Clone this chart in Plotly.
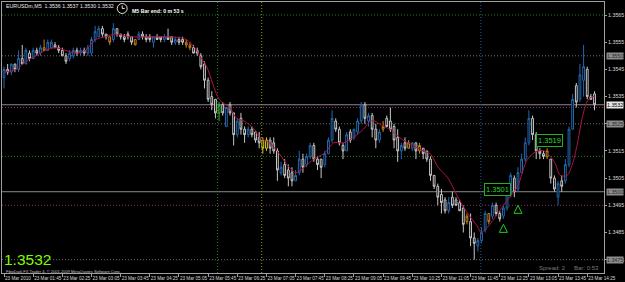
import plotly.graph_objects as go

# ---------------- data ----------------
title_text = "EURUSDm,M5  1.3536 1.3537 1.3530 1.3532"
bar_end_text = "M5 Bar end: 0 m 53 s"
last_price_text = "1.3532"
copyright_text = "FiboDark FX Trader 4, \u00a9 2001-2009 MetaQuotes Software Corp."
spread_text = "Spread: 2"
bar_timer_text = "Bar: 0:53"

time_label_bars = [0, 8, 16, 24, 32, 40, 48, 56, 64, 72, 80, 88, 96, 104, 112, 120, 128, 136, 144, 152, 160]
time_labels = ["23 Mar 2010", "23 Mar 01:45", "23 Mar 02:25", "23 Mar 03:05", "23 Mar 03:45",
               "23 Mar 04:25", "23 Mar 05:05", "23 Mar 05:45", "23 Mar 06:25", "23 Mar 07:05",
               "23 Mar 07:45", "23 Mar 08:25", "23 Mar 09:05", "23 Mar 09:45", "23 Mar 10:25",
               "23 Mar 11:05", "23 Mar 11:45", "23 Mar 12:25", "23 Mar 13:05", "23 Mar 13:45",
               "23 Mar 14:25"]

price_ticks = [1.3475, 1.3485, 1.3495, 1.3505, 1.3515, 1.3525, 1.3535, 1.3545, 1.3555, 1.3565]

opens = [1.3542, 1.3545, 1.3544, 1.3547, 1.3545, 1.3549, 1.3547, 1.3551, 1.3549, 1.3552,
         1.3551, 1.3553, 1.3552, 1.3553, 1.3554, 1.3553, 1.3552, 1.3550, 1.3549, 1.3550,
         1.3552, 1.3551, 1.3552, 1.3551, 1.3551, 1.3556, 1.3557, 1.3560, 1.3558, 1.3557,
         1.3556, 1.3560, 1.3558, 1.3557, 1.3558, 1.3557, 1.3556, 1.3556, 1.3558, 1.3557,
         1.3557, 1.3555, 1.3557, 1.3557, 1.3556, 1.3557, 1.3557, 1.3555, 1.3556, 1.3556,
         1.3555, 1.3554, 1.3553, 1.3552, 1.3550, 1.3547, 1.3541, 1.3535, 1.3534, 1.3529,
         1.3532, 1.3524, 1.3532, 1.3529, 1.3521, 1.3527, 1.3523, 1.3521, 1.3523, 1.3522,
         1.3520, 1.3519, 1.3516, 1.3519, 1.3518, 1.3515, 1.3507, 1.3510, 1.3508, 1.3507,
         1.3504, 1.3507, 1.3512, 1.3510, 1.3513, 1.3517, 1.3512, 1.3512, 1.3510, 1.3514,
         1.3519, 1.3526, 1.3523, 1.3517, 1.3515, 1.3522, 1.3520, 1.3522, 1.3526, 1.3532,
         1.3526, 1.3528, 1.3523, 1.3519, 1.3523, 1.3527, 1.3526, 1.3524, 1.3520, 1.3515,
         1.3518, 1.3516, 1.3516, 1.3518, 1.3515, 1.3516, 1.3515, 1.3512, 1.3506, 1.3502,
         1.3499, 1.3497, 1.3493, 1.3498, 1.3497, 1.3496, 1.3494, 1.3489, 1.3489, 1.3483,
         1.3480, 1.3482, 1.3486, 1.3492, 1.3491, 1.3495, 1.3492, 1.3491, 1.3494, 1.3499,
         1.3505, 1.3501, 1.3507, 1.3512, 1.3518, 1.3527, 1.3521, 1.3515, 1.3514, 1.3513,
         1.3512, 1.3505, 1.3498, 1.3504, 1.3504, 1.3510, 1.3523, 1.3539, 1.3534, 1.3541,
         1.3545, 1.3535, 1.3536]
highs = [1.3546, 1.3547, 1.3547, 1.3547, 1.3552, 1.3554, 1.3553, 1.3552, 1.3553, 1.3553,
         1.3554, 1.3556, 1.3556, 1.3556, 1.3555, 1.3554, 1.3553, 1.3551, 1.3552, 1.3553,
         1.3553, 1.3553, 1.3553, 1.3554, 1.3557, 1.3561, 1.3561, 1.3561, 1.3558, 1.3557,
         1.3562, 1.3560, 1.3558, 1.3558, 1.3559, 1.3557, 1.3556, 1.3559, 1.3559, 1.3558,
         1.3558, 1.3557, 1.3558, 1.3557, 1.3558, 1.3560, 1.3557, 1.3557, 1.3557, 1.3557,
         1.3556, 1.3555, 1.3554, 1.3553, 1.3551, 1.3548, 1.3542, 1.3537, 1.3534, 1.3533,
         1.3533, 1.3531, 1.3533, 1.3529, 1.3527, 1.3529, 1.3524, 1.3524, 1.3524, 1.3522,
         1.3522, 1.3520, 1.3520, 1.3520, 1.3520, 1.3516, 1.3511, 1.3512, 1.3510, 1.3509,
         1.3508, 1.3515, 1.3514, 1.3514, 1.3518, 1.3518, 1.3513, 1.3512, 1.3515, 1.3520,
         1.3530, 1.3527, 1.3524, 1.3518, 1.3522, 1.3523, 1.3523, 1.3527, 1.3533, 1.3533,
         1.3529, 1.3529, 1.3525, 1.3523, 1.3526, 1.3528, 1.3531, 1.3525, 1.3523, 1.3518,
         1.3520, 1.3519, 1.3518, 1.3518, 1.3518, 1.3516, 1.3515, 1.3513, 1.3506, 1.3503,
         1.3501, 1.3498, 1.3498, 1.3500, 1.3498, 1.3497, 1.3495, 1.3492, 1.3492, 1.3485,
         1.3483, 1.3487, 1.3493, 1.3492, 1.3496, 1.3496, 1.3493, 1.3495, 1.3499, 1.3507,
         1.3506, 1.3509, 1.3514, 1.3520, 1.3530, 1.3528, 1.3522, 1.3516, 1.3515, 1.3516,
         1.3512, 1.3506, 1.3504, 1.3506, 1.3512, 1.3524, 1.3536, 1.3540, 1.3547, 1.3554,
         1.3546, 1.3536, 1.3537]
lows = [1.3538, 1.3543, 1.3543, 1.3544, 1.3544, 1.3547, 1.3547, 1.3548, 1.3549, 1.3550,
        1.3550, 1.3552, 1.3552, 1.3553, 1.3553, 1.3551, 1.3550, 1.3547, 1.3548, 1.3549,
        1.3550, 1.3550, 1.3550, 1.3550, 1.3550, 1.3555, 1.3557, 1.3557, 1.3556, 1.3554,
        1.3555, 1.3557, 1.3556, 1.3555, 1.3556, 1.3554, 1.3554, 1.3556, 1.3556, 1.3555,
        1.3555, 1.3553, 1.3556, 1.3555, 1.3555, 1.3556, 1.3554, 1.3554, 1.3554, 1.3554,
        1.3553, 1.3552, 1.3551, 1.3550, 1.3545, 1.3538, 1.3533, 1.3530, 1.3527, 1.3526,
        1.3528, 1.3524, 1.3528, 1.3517, 1.3520, 1.3521, 1.3518, 1.3520, 1.3520, 1.3518,
        1.3516, 1.3514, 1.3515, 1.3514, 1.3514, 1.3504, 1.3506, 1.3505, 1.3502, 1.3502,
        1.3504, 1.3506, 1.3507, 1.3509, 1.3512, 1.3511, 1.3508, 1.3505, 1.3509, 1.3514,
        1.3518, 1.3522, 1.3517, 1.3512, 1.3515, 1.3518, 1.3519, 1.3521, 1.3525, 1.3525,
        1.3524, 1.3520, 1.3516, 1.3518, 1.3522, 1.3524, 1.3522, 1.3516, 1.3511, 1.3512,
        1.3515, 1.3516, 1.3515, 1.3512, 1.3514, 1.3512, 1.3511, 1.3504, 1.3501, 1.3495,
        1.3492, 1.3492, 1.3492, 1.3494, 1.3495, 1.3493, 1.3485, 1.3488, 1.3480, 1.3475,
        1.3478, 1.3481, 1.3485, 1.3488, 1.3490, 1.3491, 1.3489, 1.3490, 1.3493, 1.3498,
        1.3498, 1.3500, 1.3507, 1.3511, 1.3517, 1.3519, 1.3512, 1.3512, 1.3512, 1.3512,
        1.3503, 1.3500, 1.3495, 1.3500, 1.3503, 1.3509, 1.3523, 1.3531, 1.3533, 1.3535,
        1.3534, 1.3534, 1.3530]
closes = [1.3545, 1.3544, 1.3547, 1.3545, 1.3549, 1.3547, 1.3552, 1.3549, 1.3552, 1.3551,
          1.3553, 1.3552, 1.3555, 1.3555, 1.3553, 1.3552, 1.3550, 1.3548, 1.3551, 1.3552,
          1.3551, 1.3552, 1.3551, 1.3553, 1.3556, 1.3559, 1.3560, 1.3558, 1.3557, 1.3555,
          1.3560, 1.3558, 1.3557, 1.3556, 1.3557, 1.3555, 1.3554, 1.3558, 1.3557, 1.3556,
          1.3556, 1.3557, 1.3556, 1.3556, 1.3557, 1.3556, 1.3555, 1.3556, 1.3555, 1.3555,
          1.3554, 1.3553, 1.3551, 1.3551, 1.3546, 1.3541, 1.3534, 1.3532, 1.3529, 1.3532,
          1.3529, 1.3531, 1.3529, 1.3521, 1.3526, 1.3523, 1.3521, 1.3523, 1.3521, 1.3519,
          1.3518, 1.3516, 1.3519, 1.3516, 1.3515, 1.3508, 1.3509, 1.3506, 1.3505, 1.3504,
          1.3506, 1.3512, 1.3509, 1.3513, 1.3517, 1.3512, 1.3510, 1.3509, 1.3514, 1.3519,
          1.3527, 1.3523, 1.3518, 1.3515, 1.3521, 1.3519, 1.3523, 1.3526, 1.3532, 1.3527,
          1.3528, 1.3523, 1.3519, 1.3522, 1.3524, 1.3524, 1.3523, 1.3519, 1.3515, 1.3517,
          1.3516, 1.3518, 1.3518, 1.3515, 1.3517, 1.3514, 1.3512, 1.3506, 1.3502, 1.3498,
          1.3496, 1.3493, 1.3496, 1.3495, 1.3495, 1.3493, 1.3488, 1.3491, 1.3483, 1.3481,
          1.3482, 1.3485, 1.3492, 1.3489, 1.3495, 1.3492, 1.3490, 1.3494, 1.3499, 1.3506,
          1.3500, 1.3507, 1.3512, 1.3518, 1.3527, 1.3521, 1.3515, 1.3514, 1.3513, 1.3515,
          1.3505, 1.3501, 1.3503, 1.3502, 1.3510, 1.3523, 1.3534, 1.3533, 1.3543, 1.3546,
          1.3535, 1.3534, 1.3532]

orange_bars = [11, 29, 36, 50, 51, 104, 111, 114, 127, 133, 149]
yellow_bars = [71, 72]
green_bars = [59]

# smoothed moving average (bar position, price)
ma_pos = [0, 3.3, 6, 8.7, 11.4, 14.2, 16.9, 19.6, 22.3, 25.1, 27.8, 30.5, 34.6, 40, 45.5,
          50, 52.3, 53.7, 55.6, 57.2, 58.6, 59.7, 61.9, 63.8, 65.9, 68.7, 70, 72.8, 75.5,
          78.2, 80.1, 82.3, 85, 87.7, 90.5, 93.2, 95.9, 98.6, 100.5, 101.6, 104.1, 106,
          107.6, 109.5, 112.3, 115, 116.9, 119.1, 121.8, 124.5, 127.2, 130, 130.8, 132.7,
          135.4, 138.1, 140.9, 143.6, 146.3, 148.2, 151, 152.6, 154.5, 155.9, 157.2, 158.6,
          159.9, 161.3, 162.1]
ma_val = [1.3544, 1.3545, 1.3548, 1.3550, 1.3552, 1.3553, 1.3552, 1.3551, 1.3552, 1.3556,
          1.3557, 1.3558, 1.3557, 1.3557, 1.3557, 1.3556, 1.3553, 1.3550, 1.3546, 1.3540,
          1.3535, 1.3533, 1.3531, 1.3527, 1.3526, 1.3523, 1.3520, 1.3518, 1.3514, 1.3509,
          1.3507, 1.3509, 1.3512, 1.3514, 1.3518, 1.3518, 1.3520, 1.3523, 1.3526, 1.3526,
          1.3524, 1.3523, 1.3521, 1.3519, 1.3517, 1.3515, 1.3514, 1.3509, 1.3505, 1.3498,
          1.3492, 1.3487, 1.3485, 1.3487, 1.3492, 1.3497, 1.3502, 1.3512, 1.3515, 1.3515,
          1.3511, 1.3506, 1.3506, 1.3510, 1.3517, 1.3527, 1.3533, 1.3535, 1.3535]

# horizontal objects (price, colour, dash)
h_levels = [1.3565, 1.3550, 1.3532, 1.3531, 1.3525, 1.3513, 1.3500, 1.3495, 1.3475]
h_colors = ["#1f7a1f", "#6e6e6e", "#8a8a8a", "#8a2a8a", "#6e6e6e", "#1f7a1f", "#8a8a8a", "#8a2a6a", "#6e6e6e"]
h_dashes = ["1px,2px", "1px,2px", "solid", "1px,2px", "1px,2px", "1px,2px", "solid", "1px,2px", "1px,2px"]

# vertical objects (bar position, colour)
v_pos = [58.6, 70.7, 130.8]
v_colors = ["#1f8a1f", "#9a9a1a", "#1e5a8a"]

# price labels drawn on the right scale
axis_label_prices = [1.3550, 1.3525, 1.3500, 1.3475]
axis_label_texts = ["1.3550", "1.3525", "1.3500", "1.3475"]

# signal arrows and price boxes
arrow_pos = [137, 141]
arrow_price = [1.3488, 1.3495]
box_pos = [135.4, 149.6]
box_price = [1.3501, 1.3519]
box_texts = ["1.3501", "1.3519"]

# ---------------- figure ----------------
W, H = 625, 282
ML, MR, MT, MB = 1, 18, 1, 9
PW, PH = W - ML - MR, H - MT - MB


def px(xp):
    return (xp - ML) / PW


def py(yp):
    return (H - MB - yp) / PH


bars = list(range(len(opens)))
special = set(orange_bars) | set(yellow_bars) | set(green_bars)

fig = go.Figure()

# moving average
fig.add_trace(go.Scatter(x=ma_pos, y=ma_val, mode="lines",
                         line=dict(color="#b01446", width=1, shape="spline", smoothing=0.8),
                         hoverinfo="skip"))


def add_candles(idx, inc_col, dec_col, inc_fill="#000000", dec_fill="#000000"):
    fig.add_trace(go.Candlestick(
        x=[bars[i] for i in idx],
        open=[opens[i] for i in idx], high=[highs[i] for i in idx],
        low=[lows[i] for i in idx], close=[closes[i] for i in idx],
        increasing=dict(line=dict(color=inc_col, width=1), fillcolor=inc_fill),
        decreasing=dict(line=dict(color=dec_col, width=1), fillcolor=dec_fill),
        whiskerwidth=0, showlegend=False))


add_candles([i for i in bars if i not in special], "#2468b0", "#c8c8c8")
add_candles(orange_bars, "#c8801e", "#c8801e")
add_candles(yellow_bars, "#d8c820", "#d8c820")
add_candles(green_bars, "#30c030", "#30c030")

# arrows
fig.add_trace(go.Scatter(x=arrow_pos, y=arrow_price, mode="markers",
                         marker=dict(symbol="arrow-up-open", size=8, color="#20d020",
                                     line=dict(color="#20d020", width=1)),
                         hoverinfo="skip"))

shapes = []
for lvl, col, dsh in zip(h_levels, h_colors, h_dashes):
    shapes.append(dict(type="line", xref="paper", yref="y", x0=0, x1=1, y0=lvl, y1=lvl,
                       line=dict(color=col, width=1, dash=dsh), layer="below"))
for vp, col in zip(v_pos, v_colors):
    shapes.append(dict(type="line", xref="x", yref="paper", x0=vp, x1=vp, y0=0, y1=1,
                       line=dict(color=col, width=1, dash="1px,2px"), layer="below"))

# clock icon
shapes.append(dict(type="circle", xref="paper", yref="paper",
                   x0=px(117), x1=px(127), y0=py(12.5), y1=py(2.5),
                   line=dict(color="#e0e0e0", width=1)))
shapes.append(dict(type="line", xref="paper", yref="paper",
                   x0=px(122), x1=px(122), y0=py(7.5), y1=py(4.5),
                   line=dict(color="#e0e0e0", width=1)))
shapes.append(dict(type="line", xref="paper", yref="paper",
                   x0=px(122), x1=px(124.5), y0=py(7.5), y1=py(7.5),
                   line=dict(color="#e0e0e0", width=1)))

annotations = []
small = "Liberation Sans Narrow, Liberation Sans, Arial"
annotations.append(dict(text=title_text, xref="paper", yref="paper", x=px(3), y=py(5),
                        xanchor="left", yanchor="middle", showarrow=False,
                        font=dict(family=small, size=5.3, color="#e8e8e8")))
annotations.append(dict(text="<b>" + bar_end_text + "</b>", xref="paper", yref="paper",
                        x=px(130), y=py(10), xanchor="left", yanchor="middle", showarrow=False,
                        font=dict(family="Liberation Sans, Arial", size=5.2, color="#ffffff")))
annotations.append(dict(text=last_price_text, xref="paper", yref="paper", x=px(1), y=py(259.5),
                        xanchor="left", yanchor="middle", showarrow=False,
                        font=dict(family="Liberation Sans, Arial", size=15.5, color="#7cfc00")))
annotations.append(dict(text=copyright_text, xref="paper", yref="paper", x=px(3), y=py(271.3),
                        xanchor="left", yanchor="middle", showarrow=False,
                        font=dict(family=small, size=4.0, color="#c0c0c0")))
annotations.append(dict(text=spread_text, xref="paper", yref="paper", x=px(540), y=py(268),
                        xanchor="left", yanchor="middle", showarrow=False,
                        font=dict(family="Liberation Sans, Arial", size=6, color="#7a7a7a")))
annotations.append(dict(text=bar_timer_text, xref="paper", yref="paper", x=px(575), y=py(268),
                        xanchor="left", yanchor="middle", showarrow=False,
                        font=dict(family="Liberation Sans, Arial", size=6, color="#7a7a7a")))

for p, t in zip(axis_label_prices, axis_label_texts):
    annotations.append(dict(text=t, xref="paper", yref="y", x=1.0, y=p, xanchor="left",
                            yanchor="middle", showarrow=False, bgcolor="#8c8c8c",
                            borderpad=0, xshift=2,
                            font=dict(family=small, size=5.3, color="#2a2a2a")))
annotations.append(dict(text=last_price_text, xref="paper", yref="y", x=1.0, y=closes[-1],
                        xanchor="left", yanchor="middle", showarrow=False, bgcolor="#e6e6e6",
                        borderpad=0, xshift=2,
                        font=dict(family=small, size=5.3, color="#000000")))

for bp, bpr, bt in zip(box_pos, box_price, box_texts):
    annotations.append(dict(text=bt, xref="x", yref="y", x=bp, y=bpr, xanchor="center",
                            yanchor="middle", showarrow=False, bgcolor="#000000",
                            bordercolor="#20b020", borderwidth=1, borderpad=1,
                            font=dict(family="Liberation Sans, Arial", size=7.5, color="#30d030")))

fig.update_layout(
    width=W, height=H, margin=dict(l=ML, r=MR, t=MT, b=MB),
    paper_bgcolor="#000000", plot_bgcolor="#000000", showlegend=False,
    shapes=shapes, annotations=annotations,
    xaxis=dict(range=[-0.55, 164.6], showgrid=False, zeroline=False,
               showline=True, linecolor="#a0a0a0", linewidth=1, mirror=True,
               ticks="outside", ticklen=3, tickcolor="#a0a0a0",
               tickvals=time_label_bars, ticktext=time_labels, tickangle=0,
               ticklabelposition="outside right", ticklabeloverflow="allow",
               tickfont=dict(family=small, size=4.6, color="#d8d8d8"),
               rangeslider=dict(visible=False), fixedrange=True),
    yaxis=dict(range=[1.34701, 1.35698], side="right", showgrid=False, zeroline=False,
               showline=True, linecolor="#a0a0a0", linewidth=1, mirror=True,
               ticks="outside", ticklen=2, tickcolor="#a0a0a0",
               tickvals=price_ticks, ticktext=["%.4f" % v for v in price_ticks],
               tickfont=dict(family=small, size=5.3, color="#d8d8d8"), fixedrange=True),
    hovermode=False,
)

fig.write_html("out.html")
